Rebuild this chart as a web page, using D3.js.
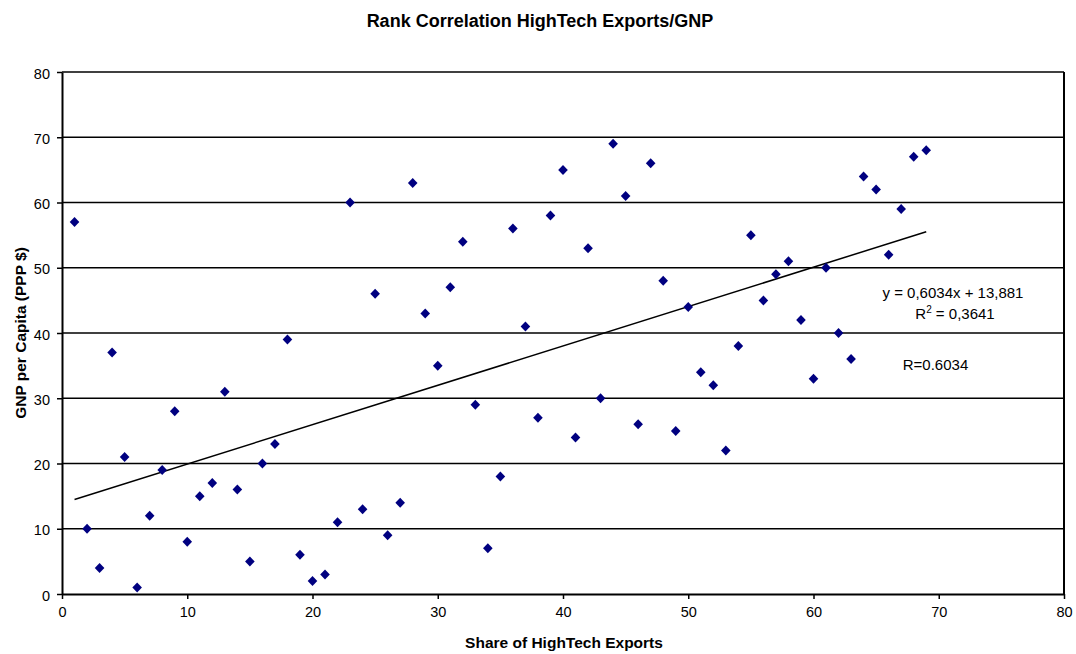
<!DOCTYPE html>
<html>
<head>
<meta charset="utf-8">
<script src="https://cdn.jsdelivr.net/npm/d3@7"></script>
<style>
	body { margin: 0; background: #ffffff; }
	text { font-family: "Liberation Sans", Arial, sans-serif; fill: #000000; }
	.title { font-weight: bold; font-size: 18px; }
	.axisLabel { font-weight: bold; font-size: 15.5px; }
	.tick text { font-size: 14.5px; }
	.note { font-size: 15px; }
</style>
</head>
<body>
<svg id="chart" width="1076" height="654"></svg>
<script>
// Rank of high tech export share (x) against rank of GNP per capita (y)
const exportRank = d3.range(1, 70);
const gnpRank = [
	57, 10, 4, 37, 21, 1, 12, 19, 28, 8,
	15, 17, 31, 16, 5, 20, 23, 39, 6, 2,
	3, 11, 60, 13, 46, 9, 14, 63, 43, 35,
	47, 54, 29, 7, 18, 56, 41, 27, 58, 65,
	24, 53, 30, 69, 61, 26, 66, 48, 25, 44,
	34, 32, 22, 38, 55, 45, 49, 51, 42, 33,
	50, 40, 36, 64, 62, 52, 59, 67, 68,
];
const xTicks = [0, 10, 20, 30, 40, 50, 60, 70, 80];
const yTicks = [0, 10, 20, 30, 40, 50, 60, 70, 80];

const width = 1076;
const height = 654;
const margin = {top: 72, right: 12, bottom: 60, left: 62};

const svg = d3.select("#chart");

const x = d3.scaleLinear().domain([0, 80]).range([margin.left, width - margin.right]);
const y = d3.scaleLinear().domain([0, 80]).range([height - margin.bottom, margin.top]);

// Least squares fit of the ranks
const points = exportRank.map((v, i) => ({x: v, y: gnpRank[i]}));
const mx = d3.mean(points, (d) => d.x);
const my = d3.mean(points, (d) => d.y);
const sxy = d3.sum(points, (d) => (d.x - mx) * (d.y - my));
const sxx = d3.sum(points, (d) => (d.x - mx) ** 2);
const syy = d3.sum(points, (d) => (d.y - my) ** 2);
const slope = sxy / sxx;
const intercept = my - slope * mx;
const r = sxy / Math.sqrt(sxx * syy);

// Horizontal grid lines
svg
	.append("g")
	.attr("stroke", "#000000")
	.attr("stroke-width", 1.5)
	.selectAll("line")
	.data(yTicks.filter((t) => t > 0))
	.enter()
	.append("line")
	.attr("x1", x(0))
	.attr("x2", x(80))
	.attr("y1", (d) => y(d))
	.attr("y2", (d) => y(d));

// Right border
svg
	.append("line")
	.attr("x1", x(80))
	.attr("x2", x(80))
	.attr("y1", y(0))
	.attr("y2", y(80))
	.attr("stroke", "#000000")
	.attr("stroke-width", 2);

// Axes
const xAxis = svg
	.append("g")
	.attr("transform", `translate(0,${y(0)})`)
	.call(d3.axisBottom(x).tickValues(xTicks).tickSize(5).tickPadding(8).tickSizeOuter(0));

const yAxis = svg
	.append("g")
	.attr("transform", `translate(${x(0)},0)`)
	.call(d3.axisLeft(y).tickValues(yTicks).tickSize(5).tickPadding(7).tickSizeOuter(0));

[xAxis, yAxis].forEach((axis) => {
	axis.attr("font-family", null).attr("font-size", null);
	axis.select(".domain").attr("stroke", "#000000").attr("stroke-width", 2);
	axis.selectAll(".tick line").attr("stroke", "#000000").attr("stroke-width", 1.5);
});
yAxis.selectAll(".tick text").attr("dy", "0.42em");

// Trend line
svg
	.append("line")
	.attr("x1", x(d3.min(exportRank)))
	.attr("y1", y(slope * d3.min(exportRank) + intercept))
	.attr("x2", x(d3.max(exportRank)))
	.attr("y2", y(slope * d3.max(exportRank) + intercept))
	.attr("stroke", "#000000")
	.attr("stroke-width", 1.5);

// Diamond markers
const diamond = "M0,-5L4.8,0L0,5L-4.8,0Z";
svg
	.append("g")
	.attr("fill", "#000080")
	.selectAll("path")
	.data(points)
	.enter()
	.append("path")
	.attr("d", diamond)
	.attr("transform", (d) => `translate(${x(d.x)},${y(d.y)})`);

// Titles
svg
	.append("text")
	.attr("class", "title")
	.attr("x", 540)
	.attr("y", 27)
	.attr("text-anchor", "middle")
	.text("Rank Correlation HighTech Exports/GNP");

svg
	.append("text")
	.attr("class", "axisLabel")
	.attr("x", 564)
	.attr("y", 648)
	.attr("text-anchor", "middle")
	.text("Share of HighTech Exports");

svg
	.append("text")
	.attr("class", "axisLabel")
	.attr("transform", `translate(25.5,${(y(0) + y(80)) / 2})rotate(-90)`)
	.attr("text-anchor", "middle")
	.text("GNP per Capita (PPP $)");

// Regression notes
const fmt = (v, digits) => v.toFixed(digits).replace(".", ",");

svg
	.append("text")
	.attr("class", "note")
	.attr("x", 953)
	.attr("y", 298)
	.attr("text-anchor", "middle")
	.text(`y = ${fmt(slope, 4)}x + ${fmt(intercept, 3)}`);

const r2 = svg
	.append("text")
	.attr("class", "note")
	.attr("x", 955)
	.attr("y", 319)
	.attr("text-anchor", "middle");
r2.append("tspan").text("R");
r2.append("tspan").attr("dy", -6).attr("font-size", 10).text("2");
r2.append("tspan").attr("dy", 6).text(` = ${fmt(r * r, 4)}`);

svg
	.append("text")
	.attr("class", "note")
	.attr("x", 935.5)
	.attr("y", 370)
	.attr("text-anchor", "middle")
	.text(`R=${r.toFixed(4)}`);
</script>
</body>
</html>
